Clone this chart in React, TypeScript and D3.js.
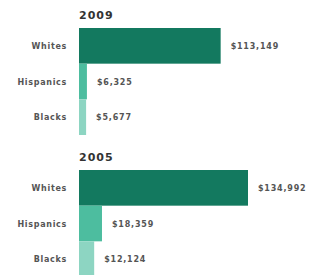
import React from "react";
import * as d3 from "d3";

const groups: string[] = ["Whites", "Hispanics", "Blacks"];
const years: string[] = ["2009", "2005"];
const wealth2009: number[] = [113149, 6325, 5677];
const wealth2005: number[] = [134992, 18359, 12124];

const colors: string[] = ["#13795f", "#4dbd9f", "#8dd5c2"];

const width = 311;
const height = 275;
const left = 79;

const x = d3.scaleLinear().domain([0, 134992]).range([0, 169]);
const fmt = d3.format("$,");

const Panel = ({ year, values, top }: { year: string; values: number[]; top: number }) => {
  const y = d3.scaleBand().domain(groups).range([top, top + 107]).padding(0);
  return (
    <g>
      <text x={left} y={top - 9} fontSize={11} fontWeight="bold" fill="#333" letterSpacing={1} fontFamily="DejaVu Sans">
        {year}
      </text>
      {groups.map((g, i) => (
        <g key={g}>
          <rect x={left} y={y(g)} width={x(values[i])} height={y.bandwidth()} fill={colors[i]} />
          <text
            x={left - 12}
            y={(y(g) ?? 0) + y.bandwidth() / 2 + 3}
            textAnchor="end"
            fontSize={8}
            fontWeight="bold"
            letterSpacing={0.7}
            fill="#555"
            fontFamily="DejaVu Sans"
          >
            {g}
          </text>
          <text
            x={left + x(values[i]) + 10}
            y={(y(g) ?? 0) + y.bandwidth() / 2 + 3}
            fontSize={8}
            fontWeight="bold"
            letterSpacing={0.8}
            fill="#555"
            fontFamily="DejaVu Sans"
          >
            {fmt(values[i])}
          </text>
        </g>
      ))}
    </g>
  );
};

export default function App() {
  return (
    <svg width={width} height={height} style={{ position: "absolute", left: 0, top: 0, background: "#fff" }}>
      <Panel year={years[0]} values={wealth2009} top={28} />
      <Panel year={years[1]} values={wealth2005} top={170} />
    </svg>
  );
}
